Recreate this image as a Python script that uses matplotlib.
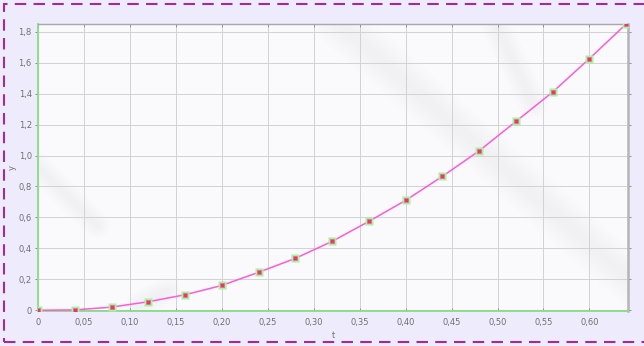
import numpy as np
import matplotlib
matplotlib.use("Agg")
import matplotlib.pyplot as plt
from matplotlib.patches import Rectangle
from matplotlib.ticker import FuncFormatter

# measured samples of the curve
t_vals = [0.00, 0.04, 0.08, 0.12, 0.16, 0.20, 0.24, 0.28, 0.32,
          0.36, 0.40, 0.44, 0.48, 0.52, 0.56, 0.60, 0.64]
y_vals = [0.000, 0.002, 0.020, 0.055, 0.100, 0.160, 0.245, 0.335, 0.445,
          0.574, 0.710, 0.865, 1.030, 1.220, 1.410, 1.626, 1.850]

x_ticks = [0.00, 0.05, 0.10, 0.15, 0.20, 0.25, 0.30, 0.35, 0.40, 0.45, 0.50, 0.55, 0.60]
y_ticks = [0.0, 0.2, 0.4, 0.6, 0.8, 1.0, 1.2, 1.4, 1.6, 1.8]

W, H = 644, 346
fig = plt.figure(figsize=(W / 100, H / 100), dpi=100)
fig.patch.set_facecolor("#EEEBFC")

# dashed frame around the panel (right edge runs past the canvas)
frame = Rectangle((3.5 / W, 4 / H), 700 / W, 338 / H, transform=fig.transFigure,
                  fill=False, edgecolor="#A02A9E", linewidth=1.5,
                  linestyle=(0, (5.5, 3.5)), clip_on=False)
fig.patches.append(frame)

ax = fig.add_axes([38 / W, 1 - 311 / H, 590 / W, 287 / H])
ax.set_facecolor("#FAFAFC")

# faint soft streaks on the plotting area (axes coordinates)
streaks = [((0.50, 1.02), (1.02, 0.08), 34, 0.0045),
           ((0.77, 1.02), (0.84, 0.72), 22, 0.0045),
           ((-0.01, 0.52), (0.10, 0.30), 20, 0.005),
           ((0.17, 0.02), (0.22, 0.07), 20, 0.0045)]
for (x0, y0), (x1, y1), lw, a in streaks:
    for k in range(9):
        ax.plot([x0, x1], [y0, y1], transform=ax.transAxes, color="#6E6E6E",
                linewidth=lw * (1 - k * 0.1), alpha=a,
                solid_capstyle="round", zorder=0.5)

ax.plot(t_vals, y_vals, color="#FF5AD8", linewidth=1.1, zorder=3)
ax.plot(t_vals, y_vals, linestyle="none", marker="s", markersize=5.5,
        markerfacecolor="#A6F2A0", markeredgecolor="none", zorder=4)
ax.plot(t_vals, y_vals, linestyle="none", marker="s", markersize=3.4,
        markerfacecolor="#EE3470", markeredgecolor="#F2608E",
        markeredgewidth=0.4, zorder=5)

ax.set_xlim(0, 0.642)
ax.set_ylim(-0.005, 1.85)
ax.set_xticks(x_ticks)
ax.set_yticks(y_ticks)


def comma_fmt(decimals):
    def f(v, pos):
        if abs(v) < 1e-9:
            return "0"
        return f"{v:.{decimals}f}".replace(".", ",")
    return FuncFormatter(f)


ax.xaxis.set_major_formatter(comma_fmt(2))
ax.yaxis.set_major_formatter(comma_fmt(1))

ax.grid(True, color="#D2D2D2", linewidth=0.7)
ax.set_axisbelow(True)

for side in ("left", "bottom"):
    ax.spines[side].set_color("#86DE86")
    ax.spines[side].set_linewidth(1.3)
ax.spines["top"].set_color("#A8A8A8")
ax.spines["top"].set_linewidth(1.0)
ax.spines["right"].set_color("#B4B4B4")
ax.spines["right"].set_linewidth(1.8)

ax.tick_params(axis="both", labelsize=6, labelcolor="#707070", color="#909090",
               length=2.5, width=0.7)
ax.tick_params(axis="x", direction="in", top=True, pad=5)
ax.tick_params(axis="y", direction="out", right=True, pad=2)

ax.set_xlabel("t", fontsize=6, color="#707070")
ax.set_ylabel("y", fontsize=6, color="#707070")
ax.xaxis.set_label_coords((333 - 38) / 590, -(331 - 311) / 287)
ax.yaxis.set_label_coords((17 - 38) / 590, (311 - 167) / 287)

fig.savefig("out.png", dpi=100, facecolor=fig.get_facecolor())
